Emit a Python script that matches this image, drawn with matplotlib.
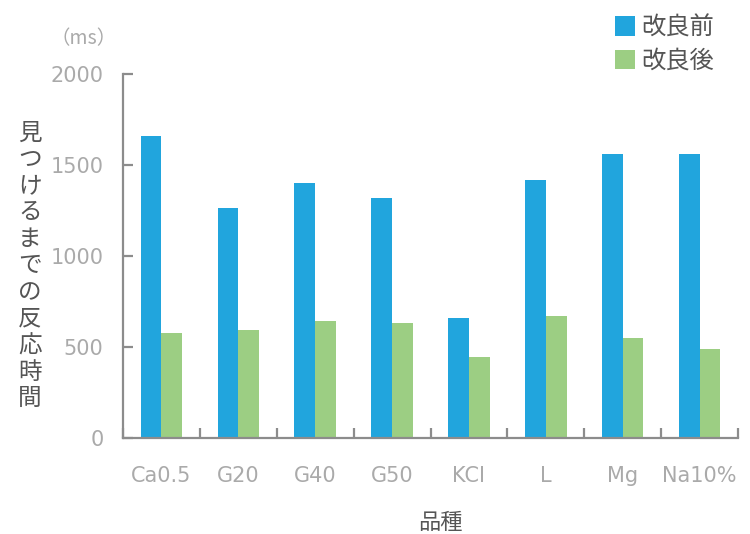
import numpy as np
import matplotlib.pyplot as plt

plt.rcParams['font.family'] = ['Noto Sans CJK JP', 'DejaVu Sans']

# data
varieties = ['Ca0.5', 'G20', 'G40', 'G50', 'KCI', 'L', 'Mg', 'Na10%']
before = [1660, 1265, 1400, 1320, 660, 1418, 1560, 1560]
after = [578, 594, 643, 632, 445, 670, 550, 490]
series_names = ['改良前', '改良後']
yticks = [0, 500, 1000, 1500, 2000]

blue = '#21a5dd'
green = '#9cce83'
axis_gray = '#8c8c8c'
label_gray = '#aaaaaa'
text_dark = '#555555'

fig = plt.figure(figsize=(7.5, 5.34), dpi=100)
ax = fig.add_axes([0.164, 0.180, 0.820, 0.681])

x = np.arange(len(varieties))
w = 0.27
b1 = ax.bar(x - w / 2, before, w, color=blue, label=series_names[0])
b2 = ax.bar(x + w / 2, after, w, color=green, label=series_names[1])

ax.set_xlim(-0.5, len(varieties) - 0.5)
ax.set_ylim(0, 2000)

for s in ['top', 'right']:
    ax.spines[s].set_visible(False)
for s in ['left', 'bottom']:
    ax.spines[s].set_color(axis_gray)
    ax.spines[s].set_linewidth(1.6)

ax.set_yticks(yticks)
ax.tick_params(axis='y', direction='in', length=7, width=1.6, color=axis_gray,
               labelcolor=label_gray, labelsize=15, pad=14)
ax.set_xticks(x)
ax.set_xticklabels(varieties)
ax.tick_params(axis='x', which='major', length=0, labelcolor=label_gray,
               labelsize=15, pad=20)
# category separators on the x axis
ax.set_xticks(np.arange(len(varieties) + 1) - 0.5, minor=True)
ax.tick_params(axis='x', which='minor', direction='in', length=7, width=1.6,
               color=axis_gray)

for lab in ax.get_xticklabels() + ax.get_yticklabels():
    lab.set_fontfamily(['DejaVu Sans'])

ylabel = '見つけるまでの反応時間'
fig.text(0.040, 0.502, '\n'.join(ylabel), ha='center', va='center',
         fontsize=17, color=text_dark, linespacing=1.2)
fig.text(0.112, 0.927, '（ms）', ha='center', va='center', fontsize=14,
         color=label_gray)
fig.text(0.587, 0.0, '品種', ha='center', va='bottom', fontsize=16,
         color=text_dark)

ax.legend(handles=[b1, b2], loc='upper left', bbox_to_anchor=(0.800, 1.0),
          bbox_transform=fig.transFigure, frameon=False, fontsize=17.5,
          handlelength=0.85, handleheight=0.85, handletextpad=0.25,
          labelspacing=0.3, borderaxespad=0.2, labelcolor=text_dark)

fig.savefig('out.png', dpi=100)
